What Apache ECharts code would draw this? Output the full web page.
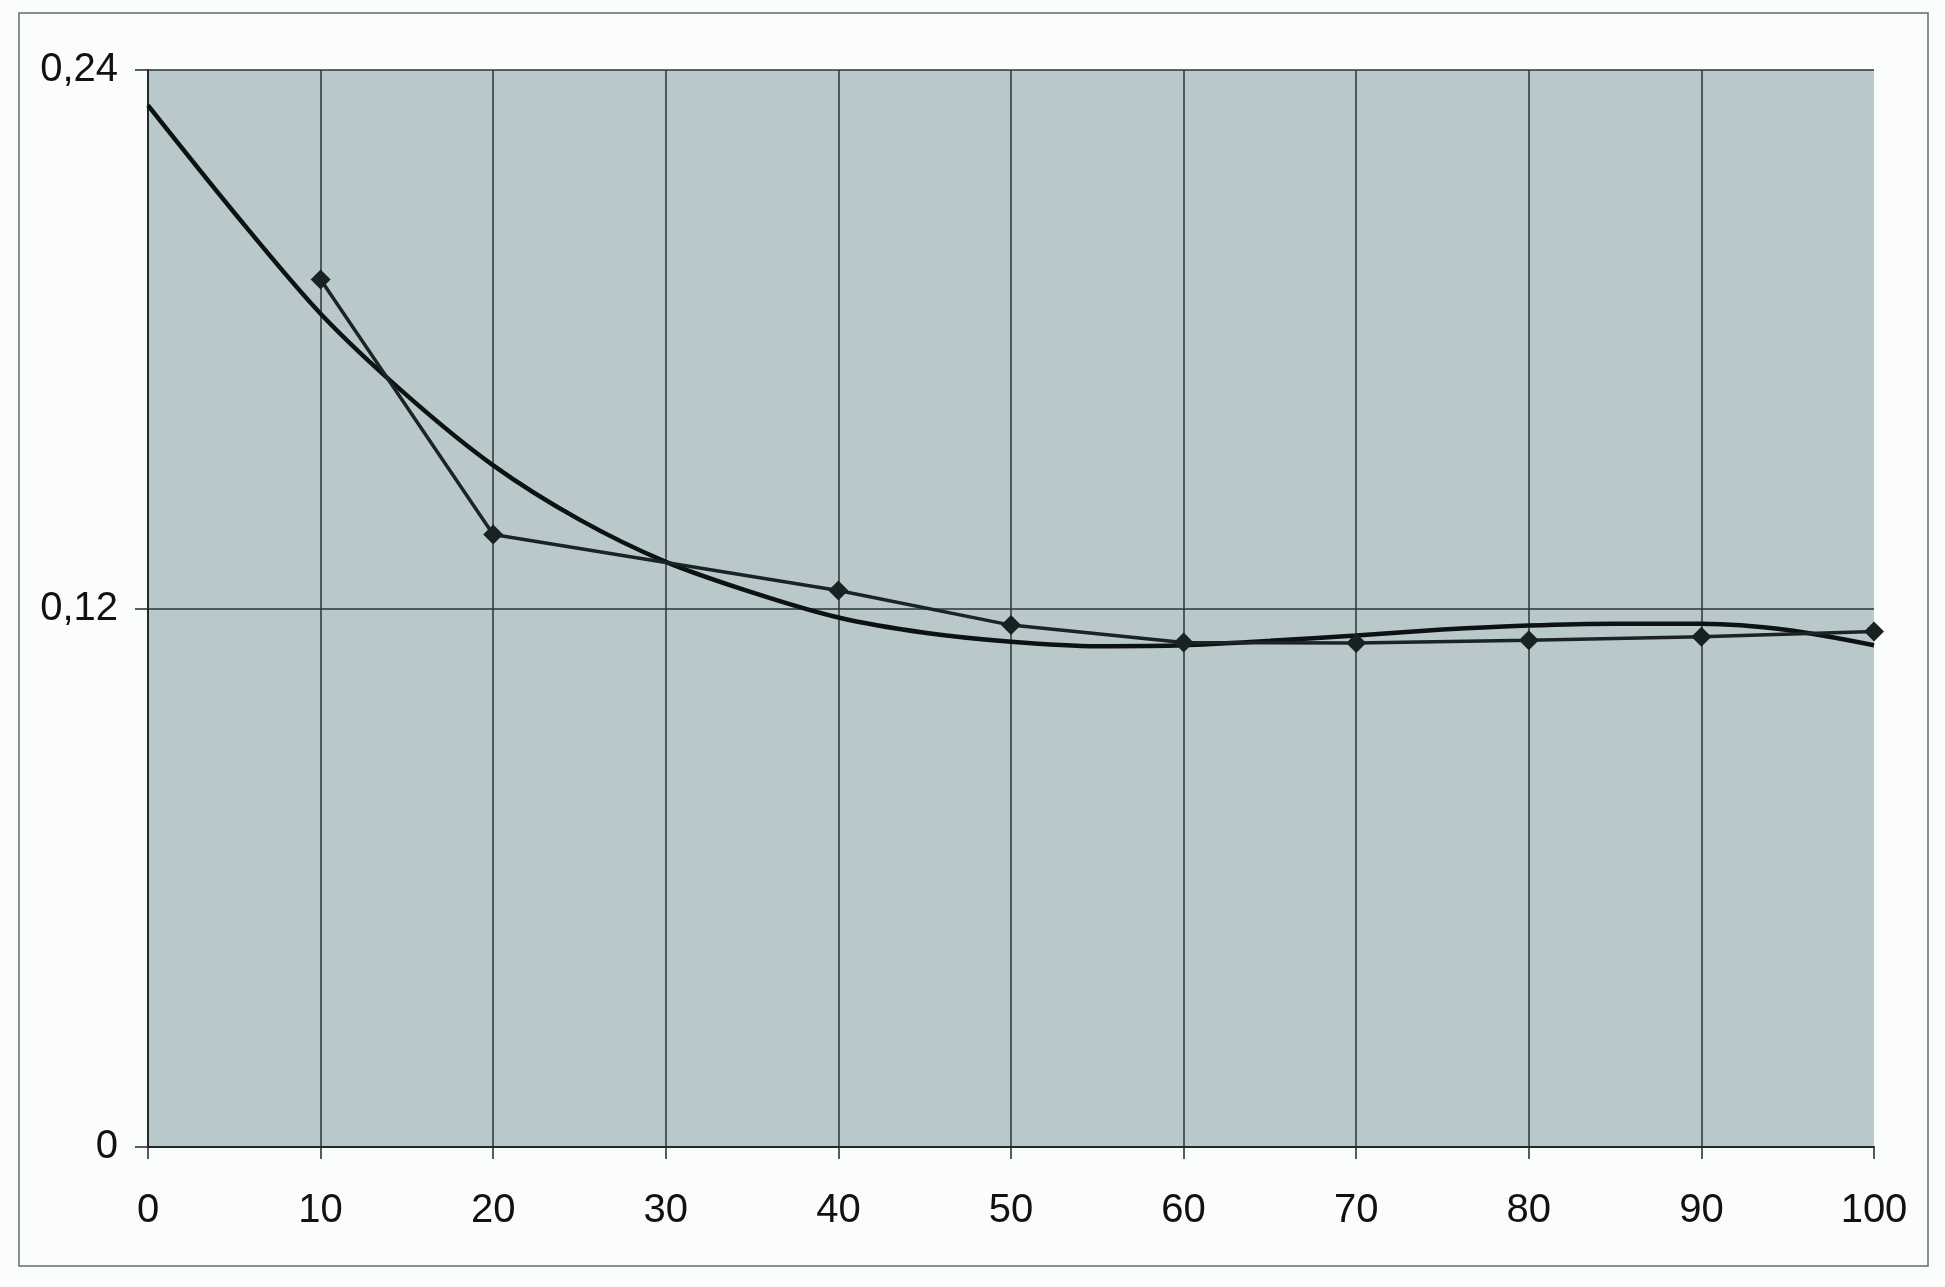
<!DOCTYPE html>
<html>
<head>
<meta charset="utf-8">
<script src="https://cdn.jsdelivr.net/npm/echarts@6/dist/echarts.min.js"></script>
<style>
html,body{margin:0;padding:0;background:#fbfdfd;}
#c{width:1945px;height:1287px;}
</style>
</head>
<body>
<div id="c"></div>
<script>
// measured points (with diamond markers)
const measuredX = [10, 20, 40, 50, 60, 70, 80, 90, 100];
const measuredY = [0.1933, 0.1365, 0.1240, 0.1163, 0.1124, 0.1123, 0.1129, 0.1137, 0.1149];
// smooth trend curve
const trendX = [0, 5, 10, 15, 20, 25, 30, 35, 40, 45, 50, 55, 60, 65, 70, 75, 80, 85, 90, 95, 100];
const trendY = [0.2321, 0.2082, 0.1857, 0.1675, 0.1519, 0.1398, 0.1304, 0.1236, 0.1180, 0.1146, 0.1126, 0.1116, 0.1118, 0.1128, 0.1140, 0.1153, 0.1162, 0.1166, 0.1166, 0.1152, 0.1118];
// axis ticks
const xTicks = [0, 10, 20, 30, 40, 50, 60, 70, 80, 90, 100];
const yTicks = [0, 0.12, 0.24];

const chart = echarts.init(document.getElementById('c'), null, {renderer: 'canvas'});
const fmt = v => String(Math.round(v * 100) / 100).replace('.', ',');
chart.setOption({
  backgroundColor: '#fbfdfd',
  animation: false,
  grid: {left: 148, top: 70, right: 71, bottom: 140, show: true, backgroundColor: '#b9c8ca', borderWidth: 0},
  graphic: [{
    type: 'rect', shape: {x: 19, y: 13, width: 1909, height: 1253},
    style: {fill: 'none', stroke: '#5f6f70', lineWidth: 1.5}, z: -1
  }],
  xAxis: {
    type: 'value', min: xTicks[0], max: xTicks[xTicks.length - 1], interval: 10,
    axisLine: {show: true, lineStyle: {color: '#1e2a2b', width: 2}},
    axisTick: {show: true, length: 12, lineStyle: {color: '#1e2a2b', width: 1.5}},
    axisLabel: {color: '#111', fontSize: 40, fontFamily: 'Liberation Sans, Arial', margin: 44},
    splitLine: {show: true, showMaxLine: false, lineStyle: {color: '#2a3637', width: 1.5}}
  },
  yAxis: {
    type: 'value', min: yTicks[0], max: yTicks[yTicks.length - 1], interval: 0.12,
    axisLine: {show: true, lineStyle: {color: '#1e2a2b', width: 2}},
    axisTick: {show: true, length: 13, lineStyle: {color: '#1e2a2b', width: 1.5}},
    axisLabel: {color: '#111', fontSize: 40, fontFamily: 'Liberation Sans, Arial', margin: 30, formatter: fmt},
    splitLine: {show: true, lineStyle: {color: '#2a3637', width: 1.5}}
  },
  series: [
    {
      type: 'line', data: trendX.map((x, i) => [x, trendY[i]]),
      smooth: 0.3, showSymbol: false, symbol: 'none',
      lineStyle: {color: '#0c1212', width: 4.5}, z: 3
    },
    {
      type: 'line', data: measuredX.map((x, i) => [x, measuredY[i]]),
      symbol: 'diamond', symbolSize: 20, showSymbol: true,
      itemStyle: {color: '#182222'},
      lineStyle: {color: '#1a2424', width: 3.5}, z: 4
    }
  ]
});
</script>
</body>
</html>
